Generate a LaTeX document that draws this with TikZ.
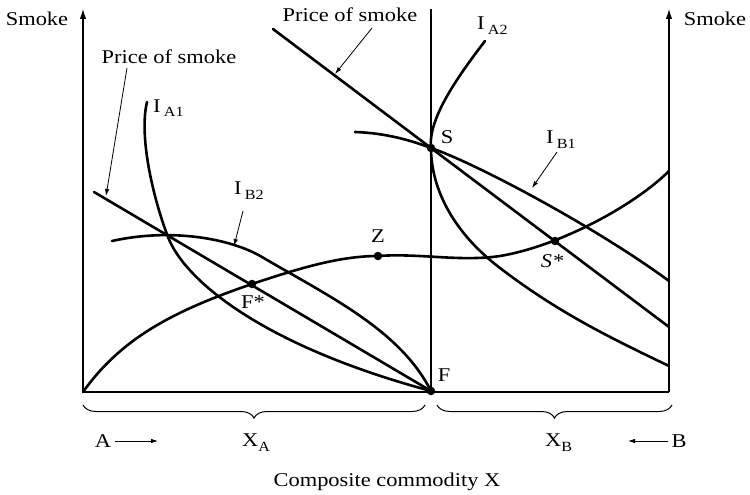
\documentclass[tikz,border=0pt]{standalone}
\usepackage{fontspec}
\setmainfont{Liberation Serif}[FakeStretch=1.15]
\usetikzlibrary{arrows.meta,decorations.pathreplacing}
\newcommand\subl[1]{\raisebox{-5pt}{\fontsize{14}{14}\selectfont #1}}
\begin{document}
\begin{tikzpicture}[x=1pt,y=-1pt,
  axis/.style={line width=1.1pt},
  thick curve/.style={line width=2.6pt, line cap=round},
  pointer/.style={line width=0.8pt,-{Latex[length=7pt,width=4.5pt]}},
  lab/.style={font=\fontsize{19.5}{22}\selectfont, inner sep=0pt},
  dot/.style={circle, fill=black, inner sep=0pt, minimum size=8.5pt},
  br/.style={line width=1pt, decorate, decoration={brace, mirror, amplitude=13pt}}
]
\useasboundingbox (0,0) rectangle (750,495);

% key points
\coordinate (O) at (83,392);
\coordinate (OT) at (83,9);
\coordinate (R) at (669,392);
\coordinate (RT) at (669,9);
\coordinate (MT) at (431,9);
\coordinate (Fp) at (431,391);
\coordinate (Sp) at (431,148);
\coordinate (P1) at (94,192);
\coordinate (P2) at (273,29);
\coordinate (P3) at (669,327);

% axes
\draw[axis,-{Latex[length=10pt,width=6.5pt]}] (O) -- (OT);
\draw[axis,-{Latex[length=10pt,width=6.5pt]}] (R) -- (RT);
\draw[axis] (O) -- (R);
\draw[axis] (Fp) -- (MT);

% price lines
\draw[thick curve] (P1) -- (Fp);
\draw[thick curve] (P2) -- (Sp) -- (P3);

% I_A1
\draw[thick curve] (147,102) .. controls (139,135) and (152,195) .. (168,237)
  .. controls (184,279) and (260,345) .. (Fp);
% I_B2
\draw[thick curve] (112,241) .. controls (170,228) and (230,238) .. (262,257)
  .. controls (330,297) and (400,330) .. (Fp);
% contract curve
\draw[thick curve] (O) .. controls (120,340) and (170,312) .. (252,284)
  .. controls (300,268) and (340,256) .. (378,256)
  .. controls (420,253) and (460,262) .. (500,256)
  .. controls (560,246) and (635,205) .. (669,171);
% I_A2
\draw[thick curve] (485,41) .. controls (455,80) and (428,120) .. (Sp)
  .. controls (431,185) and (450,230) .. (500,268)
  .. controls (560,314) and (615,340) .. (669,366);
% I_B1
\draw[thick curve] (355,132) .. controls (385,133) and (410,140) .. (Sp)
  .. controls (480,165) and (600,230) .. (669,281);

% dots
\node[dot] (F) at (Fp) {};
\node[dot] (S) at (Sp) {};
\node[dot] (Z) at (378,256) {};
\node[dot] (Fs) at (252,284) {};
\node[dot] (Ss) at (555,241) {};

% point labels
\node[lab] (lF) at (444,375) {F};
\node[lab] (lS) at (447,137) {S};
\node[lab] (lZ) at (378,236) {Z};
\node[lab] (lFs) at (253,302) {F*};
\node[lab] (lSs) at (552,261) {\itshape S*};

% axis labels
\node[lab] (smokeL) at (37,19) {Smoke};
\node[lab] (smokeR) at (715,19) {Smoke};

% price of smoke labels and pointers
\node[lab] (priceL) at (169,57) {Price of smoke};
\node[lab] (priceR) at (350,15) {Price of smoke};
\coordinate (priceLfrom) at (127,68);
\coordinate (priceLto) at (106,196);
\coordinate (priceRfrom) at (372,28);
\coordinate (priceRto) at (335,74);
\draw[pointer] (priceLfrom) -- (priceLto);
\draw[pointer] (priceRfrom) -- (priceRto);

% indifference curve labels
\node[lab, anchor=base west] (IA1) at (153,112) {I\,\subl{A1}};
\node[lab, anchor=base west] (IA2) at (477,30) {I\,\subl{A2}};
\node[lab, anchor=base west] (IB1) at (546,143) {I\,\subl{B1}};
\node[lab, anchor=base west] (IB2) at (234,194) {I\,\subl{B2}};
\coordinate (IB1from) at (557,152);
\coordinate (IB1to) at (532,188);
\coordinate (IB2from) at (243,211);
\coordinate (IB2to) at (234,246);
\draw[pointer] (IB1from) -- (IB1to);
\draw[pointer] (IB2from) -- (IB2to);

% braces
\coordinate (bL1) at (83,405);
\coordinate (bL2) at (425,405);
\coordinate (bR1) at (437,405);
\coordinate (bR2) at (672,405);
\draw[br] (bL1) -- (bL2);
\draw[br] (bR1) -- (bR2);

% bottom labels
\node[lab, anchor=base west] (XA) at (242,446) {X\subl{A}};
\node[lab, anchor=base west] (XB) at (545,446) {X\subl{B}};
\node[lab] (A) at (103,441) {A};
\node[lab] (B) at (679,441) {B};
\coordinate (Aarr1) at (115,441);
\coordinate (Aarr2) at (158,441);
\coordinate (Barr1) at (668,441);
\coordinate (Barr2) at (628,441);
\draw[pointer] (Aarr1) -- (Aarr2);
\draw[pointer] (Barr1) -- (Barr2);
\node[lab] (comp) at (387,482) {Composite commodity X};
\end{tikzpicture}
\end{document}
